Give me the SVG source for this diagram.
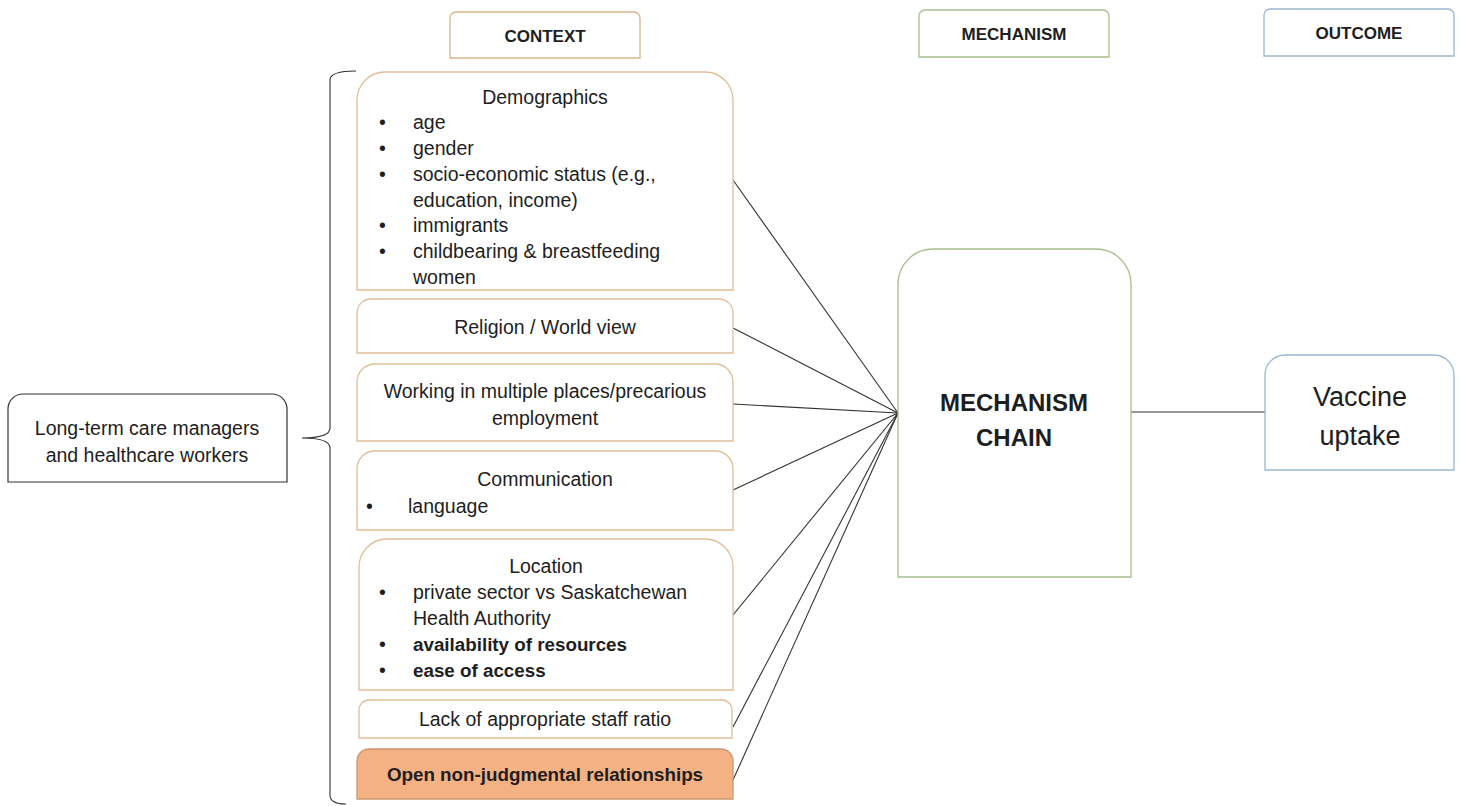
<svg xmlns="http://www.w3.org/2000/svg" width="1460" height="806" viewBox="0 0 1460 806">
<style>
text{font-family:"Liberation Sans",Arial,sans-serif;fill:#1e1e1e}
.t{font-size:19.5px}
.tb{font-size:18.8px;font-weight:bold}
.c{text-anchor:middle}
.b{font-weight:bold}
.h{font-size:17px;font-weight:bold;text-anchor:middle}
.ctx{fill:#fff;stroke:#E2BE98;stroke-width:1.3}
.hdr{fill:#fff;stroke-width:1.3}
.con{stroke:#333;stroke-width:1.1;fill:none}
</style>
<rect width="1460" height="806" fill="#fff"/>

<g id="header-context">
<path class="hdr" stroke="#D9B48C" d="M450,18 A6,6 0 0 1 456,12 H634 A6,6 0 0 1 640,18 V58 H450 Z"/>
<text class="h" x="545" y="42">CONTEXT</text>
</g>
<g id="header-mechanism">
<path class="hdr" stroke="#A8BE8E" d="M919,16 A6,6 0 0 1 925,10 H1103 A6,6 0 0 1 1109,16 V57 H919 Z"/>
<text class="h" x="1014" y="40">MECHANISM</text>
</g>
<g id="header-outcome">
<path class="hdr" stroke="#9CB6D0" d="M1264,15 A6,6 0 0 1 1270,9 H1448 A6,6 0 0 1 1454,15 V56 H1264 Z"/>
<text class="h" x="1359" y="39">OUTCOME</text>
</g>

<g id="connectors">
<line class="con" x1="733" y1="180" x2="898" y2="413"/>
<line class="con" x1="733" y1="328" x2="898" y2="413"/>
<line class="con" x1="733" y1="404" x2="898" y2="413"/>
<line class="con" x1="733" y1="490" x2="898" y2="413"/>
<line class="con" x1="733" y1="615" x2="898" y2="413"/>
<line class="con" x1="733" y1="727" x2="898" y2="413"/>
<line class="con" x1="733" y1="780" x2="898" y2="413"/>
<line class="con" x1="1131" y1="412" x2="1265" y2="412"/>
<path class="con" stroke-width="1.3" d="M356,71 Q330,71 330,80 V428 Q330,438 302,438 Q330,438 330,448 V795 Q330,804 346,804"/>
</g>

<g id="node-workers">
<path fill="#fff" stroke="#333" stroke-width="1.2" d="M8,409 A15,15 0 0 1 23,394 H272 A15,15 0 0 1 287,409 V482 H8 Z"/>
<text class="t c" x="147" y="435">Long-term care managers</text>
<text class="t c" x="147" y="462">and healthcare workers</text>
</g>

<g id="node-demographics">
<path class="ctx" d="M357,100 A28,28 0 0 1 385,72 H705 A28,28 0 0 1 733,100 V290 H357 Z"/>
<text class="t c" x="545" y="104">Demographics</text>
<text class="t" x="379" y="129">•</text><text class="t" x="413" y="129">age</text>
<text class="t" x="379" y="155">•</text><text class="t" x="413" y="155">gender</text>
<text class="t" x="379" y="181">•</text><text class="t" x="413" y="181">socio-economic status (e.g.,</text>
<text class="t" x="413" y="207">education, income)</text>
<text class="t" x="379" y="232">•</text><text class="t" x="413" y="232">immigrants</text>
<text class="t" x="379" y="258">•</text><text class="t" x="413" y="258">childbearing &amp; breastfeeding</text>
<text class="t" x="413" y="284">women</text>
</g>

<g id="node-religion">
<path class="ctx" d="M357,313 A14,14 0 0 1 371,299 H719 A14,14 0 0 1 733,313 V353 H357 Z"/>
<text class="t c" x="545" y="334">Religion / World view</text>
</g>

<g id="node-working">
<path class="ctx" d="M357,382 A18,18 0 0 1 375,364 H715 A18,18 0 0 1 733,382 V441 H357 Z"/>
<text class="t c" x="545" y="398">Working in multiple  places/precarious</text>
<text class="t c" x="545" y="425">employment</text>
</g>

<g id="node-communication">
<path class="ctx" d="M357,469 A18,18 0 0 1 375,451 H715 A18,18 0 0 1 733,469 V530 H357 Z"/>
<text class="t c" x="545" y="486">Communication</text>
<text class="t" x="366" y="513">•</text><text class="t" x="408" y="513">language</text>
</g>

<g id="node-location">
<path class="ctx" d="M359,567 A28,28 0 0 1 387,539 H705 A28,28 0 0 1 733,567 V690 H359 Z"/>
<text class="t c" x="546" y="573">Location</text>
<text class="t" x="379" y="599">•</text><text class="t" x="413" y="599">private sector vs Saskatchewan</text>
<text class="t" x="413" y="625">Health Authority</text>
<text class="t" x="379" y="651">•</text><text class="tb" x="413" y="651">availability of resources</text>
<text class="t" x="379" y="677">•</text><text class="tb" x="413" y="677">ease of access</text>
</g>

<g id="node-staff">
<path class="ctx" d="M359,710 A10,10 0 0 1 369,700 H722 A10,10 0 0 1 732,710 V738 H359 Z"/>
<text class="t c" x="545" y="726">Lack of appropriate staff ratio</text>
</g>

<g id="node-open">
<path fill="#F4B183" stroke="#C99871" stroke-width="1.3" d="M357,761 A12,12 0 0 1 369,749 H721 A12,12 0 0 1 733,761 V799 H357 Z"/>
<text class="tb c" x="545" y="781">Open non-judgmental relationships</text>
</g>

<g id="node-mechanism-chain">
<path fill="#fff" stroke="#A8BE8E" stroke-width="1.3" d="M898,284 A35,35 0 0 1 933,249 H1096 A35,35 0 0 1 1131,284 V577 H898 Z"/>
<text class="c b" x="1014" y="411" font-size="24">MECHANISM</text>
<text class="c b" x="1014" y="446" font-size="24">CHAIN</text>
</g>

<g id="node-vaccine">
<path fill="#fff" stroke="#9CB6D0" stroke-width="1.3" d="M1265,375 A20,20 0 0 1 1285,355 H1434 A20,20 0 0 1 1454,375 V470 H1265 Z"/>
<text class="c" x="1360" y="406" font-size="27">Vaccine</text>
<text class="c" x="1360" y="445" font-size="27">uptake</text>
</g>
</svg>
